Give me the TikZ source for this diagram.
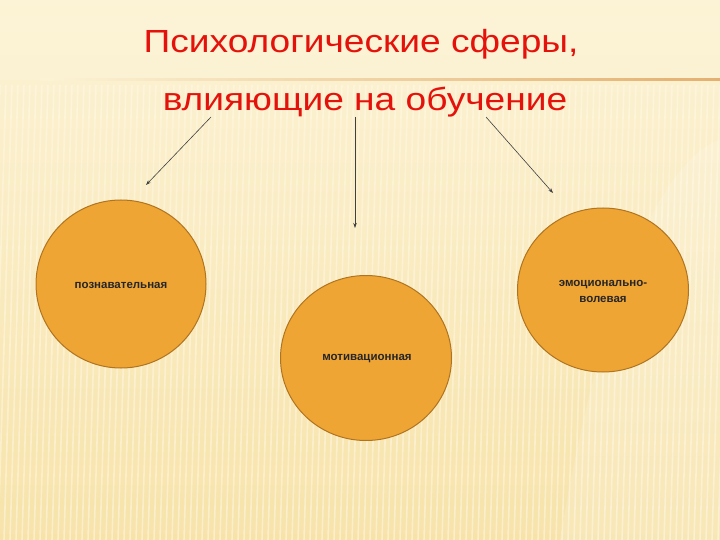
\documentclass[tikz,border=0pt]{standalone}
\usepackage{fontspec}
\setmainfont{Liberation Sans}
\usetikzlibrary{arrows.meta,shapes.geometric}
\definecolor{bgtop}{HTML}{FCF3D6}
\definecolor{bgbot}{HTML}{F7E3AA}
\definecolor{stripe}{HTML}{FFF8E4}
\definecolor{ballfill}{HTML}{EFA534}
\definecolor{balldraw}{HTML}{B07420}
\definecolor{titlered}{HTML}{E5120B}
\definecolor{rule}{HTML}{E3B070}
\tikzset{
  sphere/.style={ellipse, draw=balldraw, line width=1pt, fill=ballfill, minimum width=#1},
  lbl/.style={font=\bfseries\fontsize{11.5}{16}\selectfont, text=black!85, align=center},
  conn/.style={draw=black!75, line width=0.6pt, -{Stealth[length=5pt,width=3.5pt]}},
  ttl/.style={font=\fontsize{32}{38}\selectfont, text=titlered, xscale=1.16}
}
\begin{document}
\begin{tikzpicture}[x=1pt,y=-1pt]
\useasboundingbox (0,0) rectangle (720,540);
% background
\shade[top color=bgtop, bottom color=bgbot] (0,0) rectangle (720,540);
\fill[bgtop, opacity=0.6] (0,0) rectangle (720,80);
\foreach \i in {0,6,...,740} {
  \draw[stripe, line width=1.6pt, opacity=0.55] (\i,85) -- (\i-14,540);
}
\fill[white, opacity=0.15] (560,540) .. controls (600,300) and (660,160) .. (720,140) -- (720,540) -- cycle;
% rule
\shade[left color=bgtop, right color=rule] (40,79) rectangle (720,81);
% title
\node[ttl] (t1) at (361,44) {Психологические сферы,};
\node[ttl] (t2) at (365,102) {влияющие на обучение};
% spheres
\node[sphere=170pt, minimum height=168pt] (p) at (121,284) {};
\node[lbl] at (121,285) {познавательная};
\node[sphere=171pt, minimum height=165pt] (m) at (366,358) {};
\node[lbl] at (367,359) {мотивационная};
\node[sphere=171pt, minimum height=164pt] (e) at (603,290) {};
\node[lbl] at (603,291) {эмоционально-\\волевая};
% connectors
\coordinate (a1s) at (211,117);
\coordinate (a1e) at (146,185);
\coordinate (a2s) at (355,117);
\coordinate (a2e) at (355,228);
\coordinate (a3s) at (486,117);
\coordinate (a3e) at (553,193);
\draw[conn] (a1s) -- (a1e);
\draw[conn] (a2s) -- (a2e);
\draw[conn] (a3s) -- (a3e);
\end{tikzpicture}
\end{document}
